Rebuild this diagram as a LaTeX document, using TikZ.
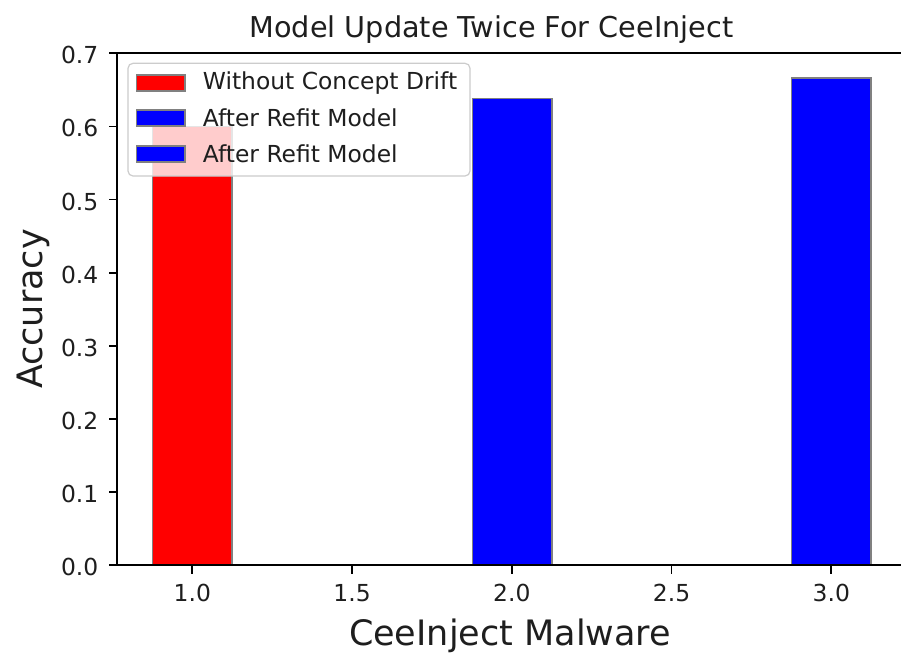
\documentclass[tikz,border=0pt]{standalone}
\usepackage{fontspec}
\setmainfont{DejaVu Sans}
\definecolor{barred}{RGB}{255,0,0}
\definecolor{barblue}{RGB}{0,0,255}
\definecolor{baredge}{RGB}{128,128,128}
\definecolor{legedge}{RGB}{204,204,204}
\definecolor{inktext}{RGB}{30,30,30}
\tikzset{
  spine/.style={line width=1.8, black, line cap=rect},
  tickmark/.style={line width=1.8, black},
  barbox/.style={draw=baredge, line width=1.6},
  ticklbl/.style={inner sep=0, text=inktext, font=\fontsize{23.4}{28}\selectfont},
  leglbl/.style={inner sep=0, anchor=west, text=inktext, font=\fontsize{23.4}{28}\selectfont},
  axlbl/.style={inner sep=0, text=inktext, font=\fontsize{35}{42}\selectfont},
  titlelbl/.style={inner sep=0, text=inktext, font=\fontsize{28.7}{34}\selectfont},
  leghandle/.style={draw=baredge, line width=1.4, minimum width=48.3, minimum height=15.7, inner sep=0}
}
\begin{document}
\begin{tikzpicture}[x=1pt,y=-1pt]
\useasboundingbox (0,0) rectangle (901,656);
\clip (0,0) rectangle (901,656);
\fill[white] (0,0) rectangle (901,656);

% bars (value -> y = 565.3 - 731.5*v)
\draw[barbox, fill=barred]  (152.4,565.3) rectangle (232.2,126.4);
\draw[barbox, fill=barblue] (472.4,565.3) rectangle (552.2,98.3);
\draw[barbox, fill=barblue] (791.4,565.3) rectangle (871.2,77.7);

% spines
\draw[spine] (117,565.3) -- (907,565.3);
\draw[spine] (117,565.3) -- (117,53.2);
\draw[spine] (117,53.2) -- (907,53.2);
\draw[spine] (907,53.2) -- (907,565.3);

% x ticks
\foreach \xv/\lbl [count=\i] in {192.3/1.0, 352.05/1.5, 511.8/2.0, 671.55/2.5, 831.3/3.0}{
  \draw[tickmark] (\xv,565.3) -- (\xv,573.5);
  \node[ticklbl, anchor=base] (xt\i) at (\xv,601.7) {\lbl};
}
% y ticks
\foreach \yv/\lbl [count=\i] in {565.3/0.0, 492.15/0.1, 419.0/0.2, 345.85/0.3, 272.7/0.4, 199.55/0.5, 126.4/0.6, 53.25/0.7}{
  \draw[tickmark] (117,\yv) -- (108.5,\yv);
  \node[ticklbl, anchor=east] (yt\i) at (98.5,\yv+2) {\lbl};
}

% legend
\draw[draw=legedge, line width=1.2, fill=white, fill opacity=0.8, rounded corners=5]
  (128,63.3) rectangle (470,176);
\node[leghandle, fill=barred]  (h1) at (160.8,83)  {};
\node[leghandle, fill=barblue] (h2) at (160.8,118) {};
\node[leghandle, fill=barblue] (h3) at (160.8,154) {};
\node[leglbl] (l1) at (202.7,83)  {Without Concept Drift};
\node[leglbl] (l2) at (202.7,118) {After Refit Model};
\node[leglbl] (l3) at (202.7,154) {After Refit Model};

% titles and axis labels
\node[titlelbl, anchor=base] (title) at (491.5,37.5) {Model Update Twice For CeeInject};
\node[axlbl, anchor=base] (xlab) at (510,645) {CeeInject Malware};
\node[axlbl, anchor=base, rotate=90] (ylab) at (42,309) {Accuracy};
\end{tikzpicture}
\end{document}
